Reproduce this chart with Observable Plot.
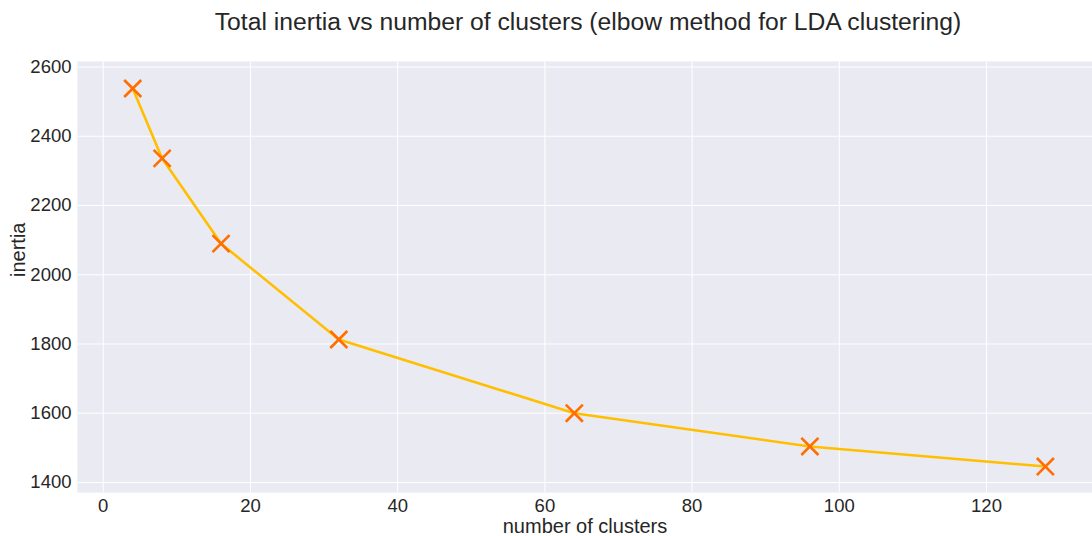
<!DOCTYPE html>
<html>
<head>
<meta charset="utf-8">
<script src="https://cdn.jsdelivr.net/npm/d3@7"></script>
<script src="https://cdn.jsdelivr.net/npm/@observablehq/plot@0.6"></script>
<style>
  body { margin: 0; background: #fff; font-family: "Liberation Sans", Arial, sans-serif; }
  #title { height: 44px; line-height: 44px; padding-left: 84px; text-align: center; font-size: 24.7px; color: #262626; }
</style>
</head>
<body>
<div id="title">Total inertia vs number of clusters (elbow method for LDA clustering)</div>
<div id="chart"></div>
<script>
// Elbow curve: total inertia for each number of clusters
const clusters = [4, 8, 16, 32, 64, 96, 128];
const inertia = [2538, 2336, 2090, 1813, 1600, 1504, 1446];
const xTicks = [0, 20, 40, 60, 80, 100, 120];
const yTicks = [1400, 1600, 1800, 2000, 2200, 2400, 2600];

const data = clusters.map((k, i) => ({k, inertia: inertia[i]}));

const chart = Plot.plot({
  width: 1092,
  height: 492,
  marginTop: 17,
  marginBottom: 44,
  marginLeft: 77,
  marginRight: 0,
  style: {fontFamily: '"Liberation Sans", Arial, sans-serif', fontSize: "18.5px", color: "#262626", background: "#fff"},
  x: {domain: [-3.5, 134.4]},
  y: {domain: [1371, 2616]},
  marks: [
    Plot.frame({fill: "#eaeaf2", stroke: null}),
    Plot.gridX(xTicks, {stroke: "white", strokeOpacity: 1, strokeWidth: 1}),
    Plot.gridY(yTicks, {stroke: "white", strokeOpacity: 1, strokeWidth: 1}),
    Plot.axisX(xTicks, {tickSize: 0, tickPadding: 6, tickFormat: d => String(d), label: null}),
    Plot.axisY(yTicks, {tickSize: 0, tickPadding: 6, tickFormat: d => String(d), label: null}),
    // axis titles
    Plot.text(["number of clusters"], {frameAnchor: "bottom", text: d => d, dy: 34, lineAnchor: "middle", fontSize: 20, fill: "#262626"}),
    Plot.text(["inertia"], {frameAnchor: "left", text: d => d, dx: -59, rotate: -90, lineAnchor: "middle", fontSize: 20, fill: "#262626"}),
    Plot.line(data, {x: "k", y: "inertia", stroke: "#ffbf00", strokeWidth: 2.6}),
    Plot.dot(data, {x: "k", y: "inertia", symbol: "times", r: 7.8, stroke: "#ff6f00", strokeWidth: 2.6})
  ]
});
document.getElementById("chart").appendChild(chart);
</script>
</body>
</html>
